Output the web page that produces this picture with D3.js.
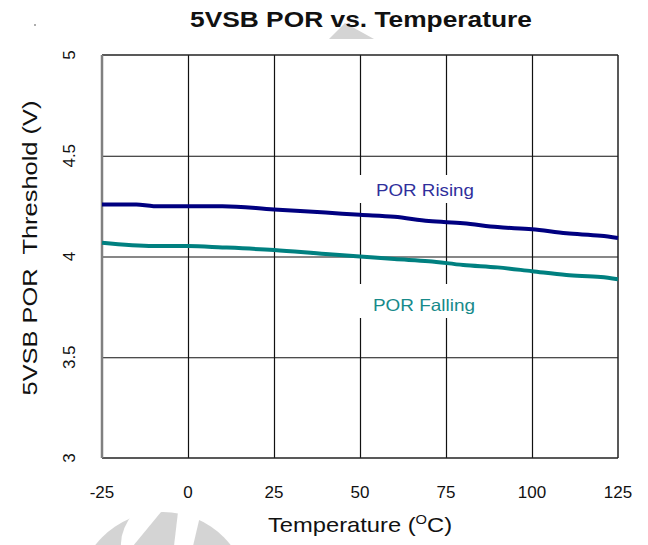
<!DOCTYPE html>
<html>
<head>
<meta charset="utf-8">
<script src="https://cdn.jsdelivr.net/npm/d3@7"></script>
<style>
  html, body { margin: 0; padding: 0; background: #fff; }
  svg { display: block; font-family: "Liberation Sans", Arial, sans-serif; }
</style>
</head>
<body>
<svg id="chart" width="648" height="545"></svg>
<script>
// ---- data ----
const risingTemps  = [-25, -15, -10, 0, 10, 25, 40, 50, 60, 70, 80, 90, 100, 110, 120, 125];
const risingVals   = [4.258, 4.258, 4.250, 4.250, 4.250, 4.233, 4.218, 4.207, 4.197, 4.176, 4.165, 4.146, 4.135, 4.115, 4.103, 4.092];
const fallingTemps = [-25, -10, 0, 10, 25, 40, 50, 60, 70, 80, 90, 100, 110, 120, 125];
const fallingVals  = [4.068, 4.052, 4.052, 4.045, 4.032, 4.012, 4.000, 3.987, 3.977, 3.958, 3.946, 3.927, 3.908, 3.898, 3.887];
const xTicks = [-25, 0, 25, 50, 75, 100, 125];
const xTickLabels = ["-25", "0", "25", "50", "75", "100", "125"];
const yTicks = [3, 3.5, 4, 4.5, 5];
const yTickLabels = ["3", "3.5", "4", "4.5", "5"];
const seriesNames = ["POR Rising", "POR Falling"];
const seriesColors = ["#000080", "#008080"];
const labelColors = ["#2f2f9c", "#178a8a"];

const svg = d3.select("#chart");
const L = 102, R = 618, T = 55, B = 458;
const x = d3.scaleLinear().domain([-25, 125]).range([L, R]);
const y = d3.scaleLinear().domain([3, 5]).range([B, T]);

// ---- watermark shapes ----
const wm = svg.append("g").attr("fill", "#d4d4d4");
wm.append("path").attr("d", "M329,39 L345,23 L374,39 Z");
const clip = svg.append("defs").append("clipPath").attr("id", "logoclip");
clip.append("rect").attr("x", 0).attr("y", 0).attr("width", 648).attr("height", 545);
const logo = svg.append("g").attr("clip-path", "url(#logoclip)");
logo.append("circle").attr("cx", 163).attr("cy", 598).attr("r", 86).attr("fill", "#d4d4d4");
logo.append("path").attr("fill", "#fff")
  .attr("d", "M134,512 L161,512 L133,546 L121,546 Q120,530 134,512 Z");
logo.append("path").attr("fill", "#fff")
  .attr("d", "M178,512 L201,512 L193,546 L174,546 Z");

// ---- grid ----
const grid = svg.append("g");
grid.append("g")
  .attr("transform", `translate(0,${B})`)
  .call(d3.axisBottom(x).tickValues(xTicks.slice(1, -1)).tickSize(-(B - T)).tickFormat(""))
  .call(g => g.select(".domain").remove())
  .call(g => g.selectAll("line").attr("stroke", "#111").attr("stroke-width", 1.2));
grid.append("g")
  .attr("transform", `translate(${L},0)`)
  .call(d3.axisLeft(y).tickValues(yTicks.slice(1, -1)).tickSize(-(R - L)).tickFormat(""))
  .call(g => g.select(".domain").remove())
  .call(g => g.selectAll("line").attr("stroke", "#111").attr("stroke-width", 1.2));

// frame
svg.append("line").attr("x1", L).attr("x2", R).attr("y1", T).attr("y2", T).attr("stroke", "#222").attr("stroke-width", 1.5);
svg.append("line").attr("x1", L).attr("x2", R).attr("y1", B).attr("y2", B).attr("stroke", "#222").attr("stroke-width", 1.5);
svg.append("line").attr("x1", R).attr("x2", R).attr("y1", T).attr("y2", B).attr("stroke", "#222").attr("stroke-width", 1.5);
svg.append("line").attr("x1", L).attr("x2", L).attr("y1", T).attr("y2", B).attr("stroke", "#808080").attr("stroke-width", 2.5);

// ---- series ----
const line = d3.line().x(d => x(d[0])).y(d => y(d[1])).curve(d3.curveMonotoneX);
const series = [
  d3.zip(risingTemps, risingVals),
  d3.zip(fallingTemps, fallingVals)
];
series.forEach((s, i) => {
  svg.append("path").datum(s)
    .attr("fill", "none").attr("stroke", seriesColors[i])
    .attr("stroke-width", 4).attr("stroke-linejoin", "round")
    .attr("d", line);
});

// ---- series labels (white boxes) ----
const labelPos = [[175, 203, 376, 196, 98], [284, 318, 373, 311, 102]];
labelPos.forEach((p, i) => {
  svg.append("rect").attr("x", 354).attr("y", p[0]).attr("width", 130).attr("height", p[1] - p[0]).attr("fill", "#fff");
  svg.append("text").attr("x", p[2]).attr("y", p[3])
    .attr("font-size", 16.5).attr("fill", labelColors[i])
    .attr("textLength", p[4]).attr("lengthAdjust", "spacingAndGlyphs")
    .text(seriesNames[i]);
});

// ---- axis tick labels ----
svg.append("g").selectAll("text").data(xTicks).join("text")
  .attr("x", d => x(d)).attr("y", 498)
  .attr("text-anchor", "middle").attr("font-size", 17).attr("fill", "#111")
  .text((d, i) => xTickLabels[i]);
svg.append("g").selectAll("text").data(yTicks).join("text")
  .attr("transform", d => `translate(75,${y(d)}) rotate(-90)`)
  .attr("text-anchor", "middle").attr("font-size", 17).attr("fill", "#111")
  .text((d, i) => yTickLabels[i]);

// ---- titles ----
svg.append("text").attr("x", 361).attr("y", 27).attr("text-anchor", "middle")
  .attr("font-size", 22).attr("font-weight", "bold").attr("fill", "#111")
  .attr("textLength", 342).attr("lengthAdjust", "spacingAndGlyphs")
  .text("5VSB POR vs. Temperature");

const xt = svg.append("text").attr("transform", "translate(268,532) scale(1.13,1)")
  .attr("font-size", 21).attr("fill", "#111");
xt.append("tspan").text("Temperature (");
xt.append("tspan").attr("font-size", 13).attr("dy", -8).text("O");
xt.append("tspan").attr("dy", 8).text("C)");

svg.append("text").attr("transform", "translate(37,248) rotate(-90)")
  .attr("text-anchor", "middle").attr("font-size", 20).attr("fill", "#111")
  .attr("textLength", 295).attr("lengthAdjust", "spacingAndGlyphs")
  .style("white-space", "pre")
  .text("5VSB POR  Threshold (V)");

svg.append("circle").attr("cx", 35).attr("cy", 25).attr("r", 0.8).attr("fill", "#444");
</script>
</body>
</html>
